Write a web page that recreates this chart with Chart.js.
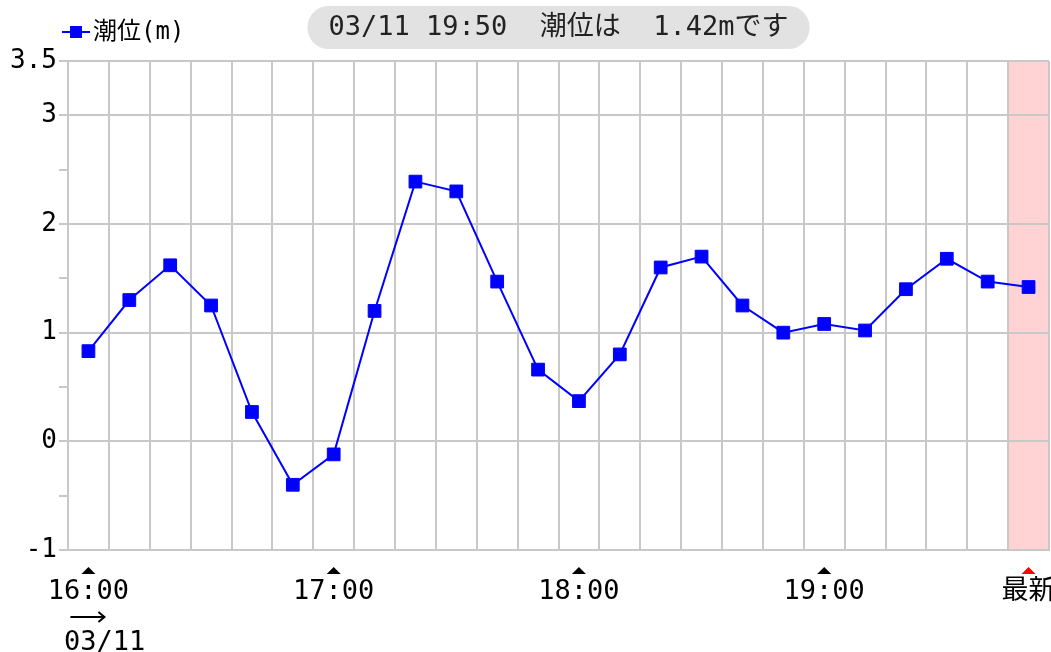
<!DOCTYPE html>
<html>
<head>
<meta charset="utf-8">
<script src="https://cdn.jsdelivr.net/npm/chart.js@4.4.1/dist/chart.umd.min.js"></script>
<style>
  body { margin: 0; background: #fff; }
  #wrap { width: 1051px; height: 652px; }
</style>
</head>
<body>
<div id="wrap"><canvas id="tideChart"></canvas></div>
<script>
// data (10 min steps)
const dateLabel = '03/11';
const times = ['16:00','16:10','16:20','16:30','16:40','16:50',
               '17:00','17:10','17:20','17:30','17:40','17:50',
               '18:00','18:10','18:20','18:30','18:40','18:50',
               '19:00','19:10','19:20','19:30','19:40','19:50'];
const levels = [0.83, 1.30, 1.62, 1.25, 0.27, -0.40,
                -0.12, 1.20, 2.39, 2.30, 1.47, 0.66,
                0.37, 0.80, 1.60, 1.70, 1.25, 1.00,
                1.08, 1.02, 1.40, 1.68, 1.47, 1.42];
const seriesName = '潮位(m)';
const latestLabel = '最新';
const labelledIdx = [0, 6, 12, 18, 23];
const yLabelTicks = [-1, 0, 1, 2, 3, 3.5];
const yMinorTicks = [-0.5, 0.5, 1.5, 2.5];

const FONT = "'DejaVu Sans Mono', 'Noto Sans CJK JP', 'DejaVu Sans', monospace";
const GRID = '#c8c8c8';
const BLUE = '#0000ff';
const last = levels.length - 1;

const extras = {
  id: 'extras',
  beforeDraw(chart) {
    // pink band behind the latest slot
    const { ctx, chartArea, scales: { x } } = chart;
    const half = (x.getPixelForValue(1) - x.getPixelForValue(0)) / 2;
    ctx.save();
    ctx.fillStyle = '#ffd2d4';
    const left = x.getPixelForValue(last) - half;
    ctx.fillRect(left, chartArea.top, chartArea.right - left, chartArea.bottom - chartArea.top);
    ctx.restore();
  },
  afterDraw(chart) {
    const { ctx, chartArea, scales: { x } } = chart;
    ctx.save();
    // triangles over the time labels
    labelledIdx.forEach(i => {
      const px = x.getPixelForValue(i);
      ctx.fillStyle = i === last ? '#ff0000' : '#000000';
      ctx.beginPath();
      ctx.moveTo(px, chartArea.bottom + 17);
      ctx.lineTo(px + 7, chartArea.bottom + 24);
      ctx.lineTo(px - 7, chartArea.bottom + 24);
      ctx.closePath();
      ctx.fill();
    });

    // arrow under the first time label
    const ax = x.getPixelForValue(0);
    const ay = chartArea.bottom + 67;
    ctx.strokeStyle = '#000';
    ctx.lineWidth = 2;
    ctx.beginPath();
    ctx.moveTo(ax - 18, ay);
    ctx.lineTo(ax + 16, ay);
    ctx.moveTo(ax + 10, ay - 5);
    ctx.lineTo(ax + 16, ay);
    ctx.lineTo(ax + 10, ay + 5);
    ctx.stroke();

    // legend
    ctx.strokeStyle = BLUE;
    ctx.beginPath();
    ctx.moveTo(62, 32);
    ctx.lineTo(90, 32);
    ctx.stroke();
    ctx.fillStyle = BLUE;
    ctx.fillRect(70, 26, 12, 12);
    ctx.fillStyle = '#000';
    ctx.font = '24px ' + FONT;
    ctx.textBaseline = 'middle';
    ctx.textAlign = 'left';
    ctx.fillText(chart.data.datasets[0].label, 93, 33);

    // current value pill
    const text = dateLabel + ' ' + times[last] + '  潮位は  ' + levels[last].toFixed(2) + 'mです';
    ctx.font = '27px ' + FONT;
    const w = ctx.measureText(text).width + 42;
    const cx = (chartArea.left + chartArea.right) / 2;
    ctx.fillStyle = '#e2e2e2';
    ctx.beginPath();
    ctx.roundRect(cx - w / 2, 6, w, 43, 21);
    ctx.fill();
    ctx.fillStyle = '#222';
    ctx.textAlign = 'center';
    ctx.fillText(text, cx, 28);
    ctx.restore();
  }
};

new Chart(document.getElementById('tideChart'), {
  type: 'line',
  data: {
    labels: times,
    datasets: [{
      label: seriesName,
      data: levels,
      borderColor: BLUE,
      backgroundColor: BLUE,
      borderWidth: 2,
      pointStyle: 'rect',
      pointRadius: 9,
      pointBorderWidth: 1,
      tension: 0
    }]
  },
  options: {
    responsive: true,
    maintainAspectRatio: false,
    animation: false,
    layout: { autoPadding: false, padding: { top: 61, right: 2, left: 0, bottom: 0 } },
    plugins: {
      legend: { display: false },
      tooltip: { enabled: false }
    },
    scales: {
      x: {
        offset: true,
        grid: { offset: true, color: GRID, lineWidth: 2, drawTicks: false },
        border: { color: GRID, width: 2 },
        ticks: {
          autoSkip: false,
          maxRotation: 0,
          padding: 29,
          color: '#000',
          font: { family: FONT, size: 27, lineHeight: 0.95 },
          callback(val, i) {
            if (i === 0) return [times[0], '', '  ' + dateLabel];
            if (i === last) return latestLabel;
            return labelledIdx.includes(i) ? times[i] : '';
          }
        },
        afterFit(scale) {
          scale.height = 102;
          scale.paddingLeft = 0;
          scale.paddingRight = 0;
        }
      },
      y: {
        min: -1,
        max: 3.5,
        afterBuildTicks(scale) {
          scale.ticks = yLabelTicks.concat(yMinorTicks).sort((a, b) => a - b).map(v => ({ value: v }));
        },
        grid: {
          lineWidth: 2,
          tickLength: 9,
          color: c => yMinorTicks.includes(c.tick.value) ? 'rgba(0,0,0,0)' : GRID,
          tickColor: GRID
        },
        border: { color: GRID, width: 2 },
        ticks: {
          padding: 2,
          color: '#000',
          font: { family: FONT, size: 26 },
          callback: v => yLabelTicks.includes(v) ? String(v) : ''
        },
        afterFit(scale) {
          scale.width = 68;
        }
      }
    }
  },
  plugins: [extras]
});
</script>
</body>
</html>
